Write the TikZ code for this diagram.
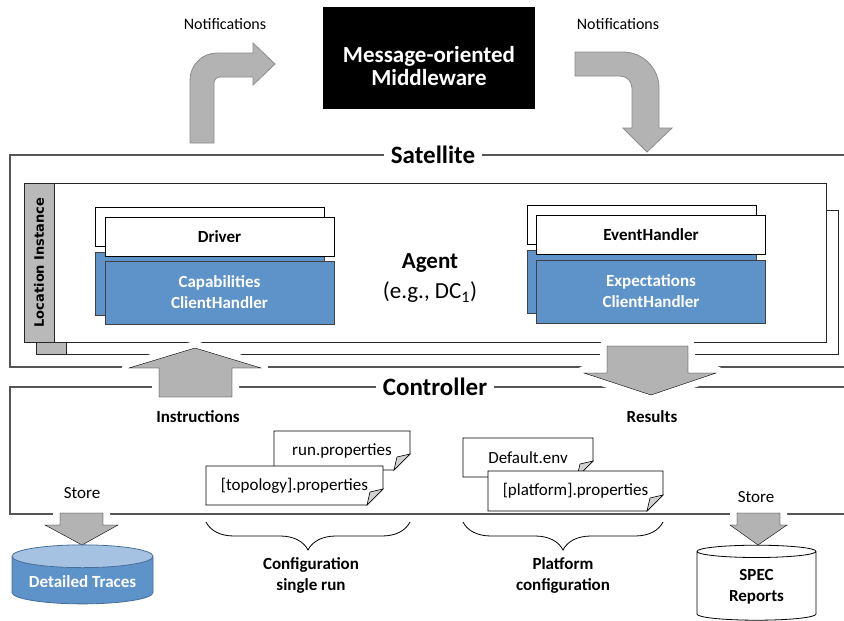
\documentclass[tikz,border=0pt]{standalone}
\usepackage{fontspec}
\setmainfont{Carlito}
\newfontfamily\locfont{DejaVu Sans}
\usetikzlibrary{shapes.geometric,decorations.pathreplacing}

\definecolor{arrowgray}{RGB}{179,179,179}
\definecolor{boxblue}{RGB}{94,147,202}
\definecolor{topblue}{RGB}{165,194,227}
\definecolor{linegray}{RGB}{85,85,85}

\newcommand{\fs}[2]{\fontsize{#1}{#2}\selectfont}
% document with folded corner: name, top left, bottom right, text
\newcommand{\foldeddoc}[6]{%
  \filldraw[fill=white,draw=black,line width=0.8pt] (#2,#3) -- (#4,#3) -- (#4,#5-16) -- (#4-16,#5) -- (#2,#5) -- cycle;
  \filldraw[fill=gray!35,draw=black,line width=0.6pt] (#4,#5-16) -- (#4-16,#5) -- (#4-13,#5-13) -- cycle;
  \node[lbl] (#1) at ({(#2+#4)/2},{(#3+#5)/2}) {#6};}

\begin{document}
\begin{tikzpicture}
  [x=1pt,y=-1pt,
   lbl/.style={font=\fs{17}{21}},
   blbl/.style={font=\fs{17}{21}\bfseries},
   title/.style={fill=white,inner sep=7pt,font=\fs{25}{29}\bfseries},
   frame/.style={draw=linegray,line width=1.2pt},
   locframe/.style={draw=black!85,fill=white,line width=0.8pt},
   locbar/.style={draw=black!85,fill=gray!55,line width=0.8pt},
   whitebox/.style={draw=black,fill=white,line width=0.8pt,minimum width=229,minimum height=39,font=\fs{17}{21}\bfseries},
   bluebox/.style={draw=black!75,fill=boxblue,text=white,line width=0.8pt,minimum width=229,minimum height=63,align=center,font=\fs{17}{21}\bfseries},
   bigarrow/.style={fill=arrowgray,preaction={draw=white,line width=14pt,line join=round}},
   bentarrow/.style={fill=arrowgray,draw=black!45,line width=0.8pt},
   curly/.style={decorate,decoration={brace,mirror,amplitude=28pt},line width=0.8pt},
   store/.style={cylinder,shape border rotate=90,aspect=0.2,line width=0.8pt,blbl,align=center}]

  \useasboundingbox (0,0) rectangle (844,621);

  % satellite and controller
  \draw[frame] (10,155) rectangle (860,367);
  \draw[frame] (10,387) rectangle (860,514);

  % location instance
  \draw[locframe] (36,210) rectangle (838,354);
  \draw[locbar] (36,210) rectangle (66,354);
  \draw[locframe] (24,183) rectangle (826,342);
  \draw[locbar] (24,183) rectangle (54,342);
  \node[rotate=90,font=\locfont\bfseries\fs{13}{16}] (loc) at (39,262.5) {Location Instance};

  % agent
  \node[whitebox] (drvback) at (210,227) {};
  \node[bluebox] (capback) at (210,283.5) {};
  \node[whitebox] (drv) at (219.5,236.5) {Driver};
  \node[bluebox] (cap) at (219.5,292.5) {Capabilities\\ClientHandler};
  \node[whitebox] (evback) at (642,225) {};
  \node[bluebox] (expback) at (642,281.5) {};
  \node[whitebox] (ev) at (651,234.5) {EventHandler};
  \node[bluebox] (exp) at (651,291.5) {Expectations\\ClientHandler};
  \node[font=\fs{23}{27}\bfseries] (agent) at (430,263) {Agent};
  \node[font=\fs{23}{27}] (dc) at (430,292) {(e.g., DC\textsubscript{1})};

  % arrows between satellite and controller
  \draw[bigarrow] (159,397) -- (159,368) -- (129,368) -- (195,348) -- (261,368) -- (232,368) -- (232,397) -- cycle;
  \draw[bigarrow] (607,346) -- (688,346) -- (688,373) -- (716,373) -- (651,395) -- (584,373) -- (607,373) -- cycle;
  \draw[bigarrow] (60,513) -- (103,513) -- (103,525) -- (118,525) -- (82,545) -- (45,525) -- (60,525) -- cycle;
  \draw[bigarrow] (737,513) -- (780,513) -- (780,525) -- (787,525) -- (758,545) -- (730,525) -- (737,525) -- cycle;

  \node[title] (sat) at (433,155) {Satellite};
  \node[title] (ctrl) at (435,387) {Controller};

  % middleware
  \node[fill=black,minimum width=212,minimum height=102] (mom) at (429,58) {};
  \node[text=white,align=center,font=\fs{23}{23}\bfseries] (momtext) at (429,66) {Message-oriented\\Middleware};
  \node[font=\fs{16}{19}] (notl) at (225,24) {Notifications};
  \node[font=\fs{16}{19}] (notr) at (618,24) {Notifications};
  \draw[bentarrow] (190,143) -- (190,80) arc[start angle=180,end angle=270,radius=27] -- (253,53) -- (253,43) -- (275,64) -- (253,85) -- (253,77) -- (220,77) arc[start angle=270,end angle=180,radius=6] -- (214,143) -- cycle;
  \draw[bentarrow] (575,52) -- (623,52) arc[start angle=270,end angle=360,radius=36] -- (659,128) -- (672,128) -- (647,152) -- (623,128) -- (632,128) -- (632,88) arc[start angle=0,end angle=-90,radius=12] -- (575,76) -- cycle;

  \node[blbl] (instr) at (198,417) {Instructions};
  \node[blbl] (res) at (652,417) {Results};

  % configuration files
  \foldeddoc{run}{274}{431}{410}{470}{run.properties}
  \foldeddoc{topo}{206}{466}{383}{505}{[topology].properties}
  \foldeddoc{deflt}{463}{438}{593}{477}{Default.env}
  \foldeddoc{platf}{488}{471}{663}{511}{[platform].properties}

  \draw[curly] (206,522) -- (410,522);
  \draw[curly] (463,522) -- (663,522);
  \node[blbl,align=center] (cfg) at (311,575) {Configuration\\single run};
  \node[blbl,align=center] (plat) at (563,575) {Platform\\configuration};

  % storage
  \node[lbl] (storel) at (82,493) {Store};
  \node[lbl] (storer) at (756,497) {Store};
  \node[store,minimum width=141,minimum height=59,draw=boxblue!75!black,text=white,
        cylinder uses custom fill,cylinder body fill=boxblue,cylinder end fill=topblue] (traces) at (82.5,582) {Detailed Traces};
  \node[store,minimum width=119,minimum height=75,draw=black,fill=white] (spec) at (756.5,587) {SPEC\\Reports};
\end{tikzpicture}
\end{document}
